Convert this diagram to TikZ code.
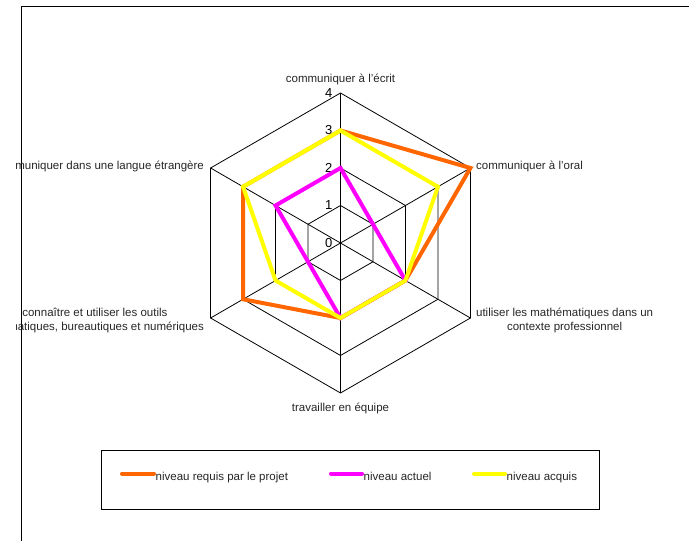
\documentclass[tikz,border=0pt]{standalone}
\usepackage{fontspec}
\setmainfont{Liberation Sans}
\definecolor{req}{HTML}{FF6600}
\definecolor{act}{HTML}{FF00FF}
\definecolor{acq}{HTML}{FFFF00}
\begin{document}
\begin{tikzpicture}[x=1pt,y=-1pt,
  font=\fontsize{11.5}{14.5}\selectfont,
  gridline/.style={line width=0.8pt, black},
  serie/.style={line width=4pt},
  legline/.style={line width=4pt, line cap=round},
  numlab/.style={anchor=east, inner sep=0pt, font=\fontsize{13}{13}\selectfont},
  axlab/.style={inner sep=0pt, align=center, text=black!85}]
\useasboundingbox (0,0) rectangle (689,541);
% frame
\coordinate (fa) at (21.5,541);
\coordinate (fb) at (21.5,6.5);
\coordinate (fc) at (689,6.5);
\draw[line width=1.2pt] (fa) -- (fb) -- (fc);
% radar geometry
\coordinate (c) at (340.5,243);
\foreach \k/\a in {1/-90,2/-30,3/30,4/90,5/150,6/210}{
  \foreach \l in {0,...,4}{
    \coordinate (p\k-\l) at ([shift={(\a:{37.5*\l})}]c);
  }
}
\foreach \l in {1,...,4}{
  \draw[gridline] (p1-\l) -- (p2-\l) -- (p3-\l) -- (p4-\l) -- (p5-\l) -- (p6-\l) -- cycle;
}
\foreach \k in {1,...,6}{
  \draw[gridline] (c) -- (p\k-4);
}
% scale numbers
\foreach \l in {0,...,4}{
  \node[numlab] (n\l) at ([xshift=-8]p1-\l) {\l};
}
% series
\draw[serie, req] (p1-3) -- (p2-4) -- (p3-2) -- (p4-2) -- (p5-3) -- (p6-3) -- cycle;
\draw[serie, act] (p1-2) -- (p2-1) -- (p3-2) -- (p4-2) -- (p5-1) -- (p6-2) -- cycle;
\draw[serie, acq] (p1-3) -- (p2-3) -- (p3-2) -- (p4-2) -- (p5-2) -- (p6-3) -- cycle;
% axis labels
\node[axlab] (l1) at ([shift={(0,-14)}]p1-4) {communiquer à l'écrit};
\node[axlab, anchor=west] (l2) at ([shift={(5.5,-2)}]p2-4) {communiquer à l'oral};
\node[axlab, anchor=west] (l3) at ([shift={(5.5,2.5)}]p3-4) {utiliser les mathématiques dans un\\contexte professionnel};
\node[axlab] (l4) at ([shift={(0,15)}]p4-4) {travailler en équipe};
\begin{scope}
  \clip (16,0) rectangle (689,541);
  \node[axlab, anchor=east] (l5) at ([shift={(-6.5,2.5)}]p5-4) {connaître et utiliser les outils\\informatiques, bureautiques et numériques};
  \node[axlab, anchor=east] (l6) at ([shift={(-6.5,-2)}]p6-4) {communiquer dans une langue étrangère};
\end{scope}
% legend
\coordinate (la) at (101,450);
\coordinate (lb) at (599,509);
\draw[line width=1pt] (la) rectangle (lb);
\coordinate (r1) at (122,473.5);
\coordinate (r2) at (154,473.5);
\coordinate (m1) at (331,473.5);
\coordinate (m2) at (362,473.5);
\coordinate (y1) at (474,473.5);
\coordinate (y2) at (505,473.5);
\draw[legline, req] (r1) -- (r2);
\draw[legline, act] (m1) -- (m2);
\draw[legline, acq] (y1) -- (y2);
\node[axlab, anchor=base west] (t1) at ([shift={(1.5,7)}]r2) {niveau requis par le projet};
\node[axlab, anchor=base west] (t2) at ([shift={(1.5,7)}]m2) {niveau actuel};
\node[axlab, anchor=base west] (t3) at ([shift={(1.5,7)}]y2) {niveau acquis};
\end{tikzpicture}
\end{document}
